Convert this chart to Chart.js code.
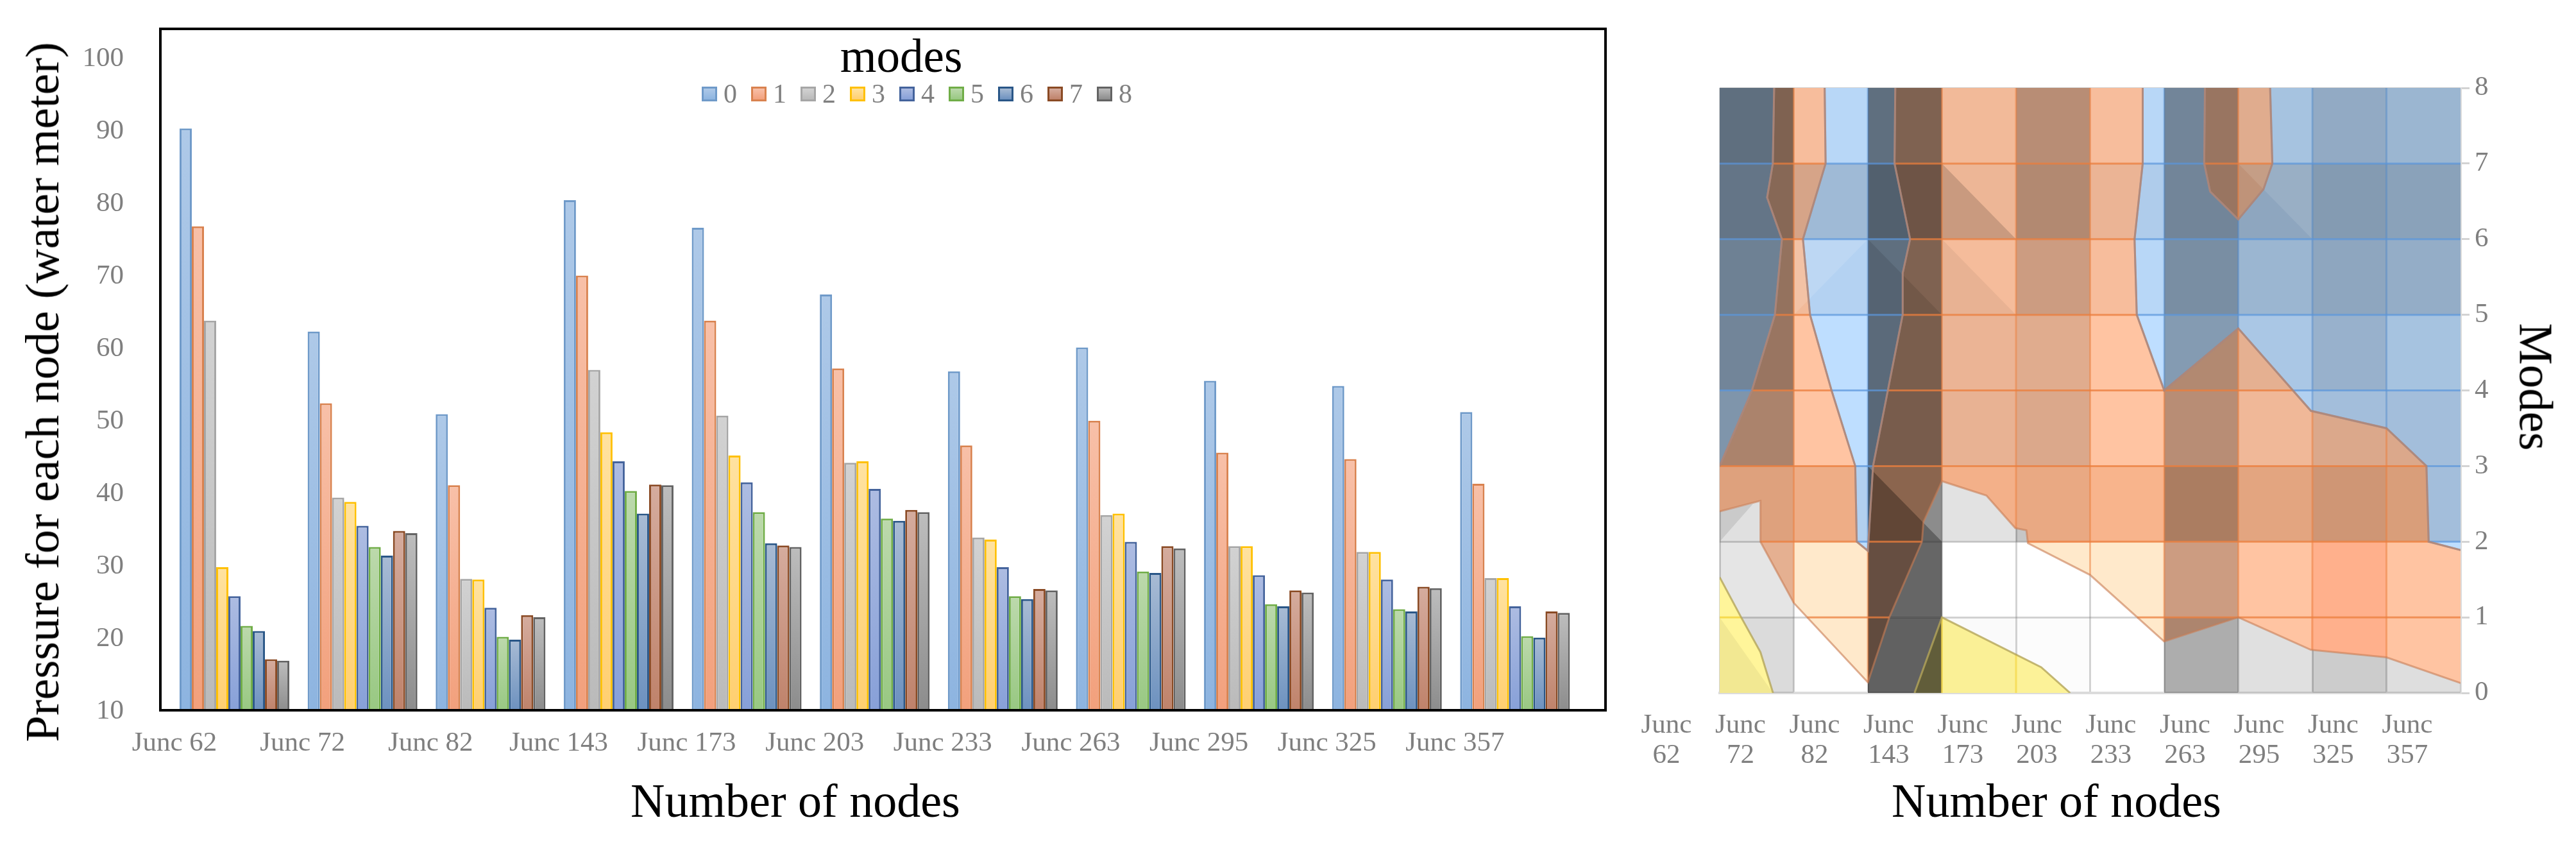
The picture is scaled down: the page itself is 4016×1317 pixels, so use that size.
<!DOCTYPE html>
<html>
<head>
<meta charset="utf-8">
<script src="https://cdn.jsdelivr.net/npm/chart.js@4"></script>
<style>
  html, body { margin: 0; background: #fff; }
  #page { position: relative; width: 4016px; height: 1317px; overflow: hidden; font-family: "Liberation Serif", serif; }
  canvas { position: absolute; top: 0; }
  .title { position: absolute; color: #000; line-height: 1; white-space: nowrap; }
  #frame { position: absolute; left: 248px; top: 43px; width: 2257px; height: 1066px; box-sizing: border-box; border: 4px solid #000; }
  .key { position: absolute; top: 135px; width: 24px; height: 23px; box-sizing: border-box; border: 3px solid; }
  .keyText { position: absolute; top: 121px; font-size: 42px; line-height: 50px; color: #808080; }
</style>
</head>
<body>
<div id="page">
  <canvas id="bars" width="2600" height="1317" style="left:0;width:2600px;height:1317px"></canvas>
  <div id="frame"></div>
  <canvas id="contour" width="1506" height="1317" style="left:2510px;width:1506px;height:1317px"></canvas>
  <div class="title" style="left:66px;top:611px;font-size:74px;transform:translate(-50%,-50%) rotate(-90deg)">Pressure for each node (water meter)</div>
  <div class="title" style="left:1240px;top:1248px;font-size:74px;transform:translate(-50%,-50%)">Number of nodes</div>
  <div class="title" style="left:1405px;top:87px;font-size:73px;transform:translate(-50%,-50%)">modes</div>
  <div class="title" style="left:3206px;top:1248px;font-size:74px;transform:translate(-50%,-50%)">Number of nodes</div>
  <div class="title" style="left:3953px;top:603px;font-size:73px;transform:translate(-50%,-50%) rotate(90deg)">Modes</div>
</div>
<script>
// values
const nodes = ['Junc 62', 'Junc 72', 'Junc 82', 'Junc 143', 'Junc 173', 'Junc 203', 'Junc 233', 'Junc 263', 'Junc 295', 'Junc 325', 'Junc 357'];
const modeNames = ['0', '1', '2', '3', '4', '5', '6', '7', '8'];
const mode0 = [90.4, 62.4, 51.0, 80.5, 76.7, 67.5, 56.9, 60.2, 55.6, 54.9, 51.3];
const mode1 = [76.9, 52.5, 41.2, 70.1, 63.9, 57.3, 46.7, 50.1, 45.7, 44.8, 41.4];
const mode2 = [63.9, 39.5, 28.3, 57.1, 50.8, 44.3, 34.0, 37.1, 32.8, 32.0, 28.4];
const mode3 = [29.9, 38.9, 28.2, 48.5, 45.3, 44.5, 33.7, 37.3, 32.8, 32.0, 28.4];
const mode4 = [25.9, 35.6, 24.3, 44.5, 41.6, 40.7, 29.9, 33.4, 28.8, 28.2, 24.5];
const mode5 = [21.8, 32.7, 20.3, 40.4, 37.5, 36.6, 25.9, 29.3, 24.8, 24.1, 20.4];
const mode6 = [21.1, 31.5, 19.9, 37.3, 33.2, 36.3, 25.5, 29.1, 24.5, 23.8, 20.2];
const mode7 = [17.2, 34.9, 23.3, 41.3, 32.9, 37.8, 26.9, 32.8, 26.7, 27.2, 23.8];
const mode8 = [17.0, 34.6, 23.0, 41.2, 32.7, 37.5, 26.7, 32.5, 26.4, 27.0, 23.6];
const modeValues = [mode0, mode1, mode2, mode3, mode4, mode5, mode6, mode7, mode8];
const pressureTicks = [10, 20, 30, 40, 50, 60, 70, 80, 90, 100];

// contour regions of the right plot, as [node index, mode]
const blueLeft = [[0, 8], [0.735, 8], [0.717, 7], [0.64, 6.55], [0.84, 6], [0.745, 5], [0.435, 4], [0, 3]];
const blueMiddle = [[1.417, 8], [2.37, 8], [2.36, 7], [2.57, 6], [2.47, 5.55], [2.47, 5], [2.27, 4], [2.07, 3], [2, 1.88], [1.85, 2], [1.83, 3], [1.51, 4], [1.22, 5], [1.124, 6], [1.43, 7]];
const blueRight = [[5.71, 8], [6.55, 8], [6.54, 7], [6.62, 6.63], [7, 6.26], [7.34, 6.66], [7.46, 7], [7.43, 8], [10, 8], [10, 1.89], [9.57, 2], [9.54, 3], [9, 3.5], [7.98, 3.73], [7, 4.82], [6, 4], [5.63, 5], [5.6, 6], [5.71, 7]];
const orangeIsland = [[6.55, 8], [6.54, 7], [6.62, 6.63], [7, 6.26], [7.34, 6.66], [7.46, 7], [7.43, 8]];
const orangeMain = [[0.735, 8], [1.417, 8], [1.43, 7], [1.124, 6], [1.22, 5], [1.51, 4], [1.83, 3], [1.85, 2], [2, 1.88], [2.07, 3], [2.27, 4], [2.47, 5], [2.47, 5.55], [2.57, 6], [2.36, 7], [2.37, 8], [5.71, 8], [5.71, 7], [5.6, 6], [5.63, 5], [6, 4], [7, 4.82], [7.98, 3.73], [9, 3.5], [9.54, 3], [9.57, 2], [10, 1.89], [10, 0.13], [9, 0.47], [7.98, 0.57], [7, 1], [6, 0.68], [5, 1.56], [4.16, 1.98], [4.14, 2.15], [3.99, 2.18], [3.6, 2.61], [3, 2.8], [2.75, 2.26], [2.73, 2], [2.29, 1], [2, 0.14], [1, 1.19], [0.55, 2], [0.55, 2.54], [0, 2.4], [0, 3], [0.435, 4], [0.745, 5], [0.84, 6], [0.64, 6.55], [0.717, 7]];
const yellowLeft = [[0, 1.53], [0.29, 1], [0.55, 0.54], [0.72, 0], [0, 0]];
const yellowMiddle = [[2.63, 0], [3, 1], [4.34, 0.34], [4.73, 0]];
const peachCol1 = [[1, 2], [1.85, 2], [2, 1.88], [2, 0.14], [1, 1.19]];
const peachCol5 = [[4.16, 1.98], [6, 2], [6, 0.68], [5, 1.56]];
const salmonCol8 = [[8, 2], [9, 2], [9, 0.47], [7.98, 0.57]];
const deepRowLeft = [[0, 3], [1.83, 3], [1.85, 2], [0.55, 2], [0.55, 2.54], [0, 2.4]];
const deepRowRight = [[2.07, 3], [9.54, 3], [9.57, 2], [4.16, 2], [4.14, 2.15], [3.99, 2.18], [3.6, 2.61], [3, 2.8], [2.75, 2.26], [2.73, 2], [2.03, 2]];

// darkness of each cell: rows from mode 7-8 down to mode 0-1, columns left to right
const cellDark = [
  [0.50, 0.03, 0.50, 0.05, 0.28, 0.03, 0.40, 0.12, 0.23, 0.18],
  [0.47, 0.16, 0.57, 0.07, 0.30, 0.08, 0.40, 0.25, 0.30, 0.27],
  [0.42, 0.05, 0.50, 0.04, 0.20, 0.03, 0.36, 0.18, 0.25, 0.22],
  [0.40, 0.00, 0.52, 0.08, 0.12, 0.00, 0.30, 0.10, 0.20, 0.12],
  [0.33, 0.00, 0.53, 0.09, 0.14, 0.00, 0.28, 0.06, 0.14, 0.14],
  [0.12, 0.06, 0.45, 0.04, 0.08, 0.02, 0.32, 0.10, 0.18, 0.14],
  [0.10, 0.00, 0.60, 0.00, 0.00, 0.00, 0.20, 0.00, 0.00, 0.00],
  [0.14, 0.00, 0.62, 0.02, 0.01, 0.00, 0.32, 0.00, 0.00, 0.00]
];
// gray that only shows outside the orange region: [column, lower mode, darkness]
const grayUnder = [[7, 0, 0.12], [8, 0, 0.2], [9, 0, 0.13], [3, 2, 0.08], [4, 2, 0.16]];
// triangles of a cell that come out darker (above 0) or lighter (below 0)
const cellFacets = [
  [[[3, 7], [3, 6], [4, 6]], 0.15],
  [[[3, 6], [3, 5], [4, 5]], 0.05],
  [[[2, 6], [2, 5], [3, 5]], 0.1],
  [[[2, 3], [2, 2], [3, 2]], 0.3],
  [[[0, 2], [0, 2.4], [0.45, 2.5]], 0.1],
  [[[0, 1], [0.72, 0], [0, 0]], 0.05],
  [[[7, 7], [8, 7], [8, 6]], -0.1],
  [[[1, 6], [2, 6], [1, 5]], -0.12]
];

const barTop = ['#aec9e8', '#f8c0a8', '#d2d2d2', '#ffe2a0', '#adbce2', '#bcd9ac', '#a8bbd4', '#d5ac9e', '#bdbdbd'];
const barBottom = ['#8db4e0', '#f2a07c', '#bababa', '#ffcf70', '#87a0d8', '#98c882', '#6c91bf', '#bf826a', '#8c8c8c'];
const barEdge = ['#6f9ac9', '#d9824f', '#a6a6a6', '#ffc000', '#44639c', '#70ad47', '#295687', '#8a4a24', '#636363'];

Chart.defaults.font.family = '"Liberation Serif", serif';
Chart.defaults.animation = false;
Chart.defaults.plugins.legend.display = false;
Chart.defaults.plugins.tooltip.enabled = false;

// legend above the bars, one key per mode
const page = document.getElementById('page');
modeNames.forEach(function (name, i) {
  const key = document.createElement('div');
  key.className = 'key';
  key.style.left = (1094 + i * 77) + 'px';
  key.style.borderColor = barEdge[i];
  key.style.background = 'linear-gradient(' + barTop[i] + ',' + barBottom[i] + ')';
  page.appendChild(key);
  const text = document.createElement('div');
  text.className = 'keyText';
  text.style.left = (1128 + i * 77) + 'px';
  text.textContent = name;
  page.appendChild(text);
});

new Chart(document.getElementById('bars'), {
  type: 'bar',
  data: {
    labels: nodes,
    datasets: modeValues.map(function (values, i) {
      return {
        label: modeNames[i],
        data: values,
        borderColor: barEdge[i],
        borderWidth: 3,
        backgroundColor: function (c) {
          const plot = c.chart.chartArea;
          if (c.type !== 'data' || !plot || !c.parsed) return barBottom[i];
          const top = c.chart.scales.y.getPixelForValue(c.parsed.y);
          const g = c.chart.ctx.createLinearGradient(0, top, 0, plot.bottom);
          g.addColorStop(0, barTop[i]);
          g.addColorStop(1, barBottom[i]);
          return g;
        }
      };
    })
  },
  options: {
    responsive: false,
    devicePixelRatio: 1,
    layout: { autoPadding: false, padding: { left: 0, top: 43, right: 138.3, bottom: 0 } },
    datasets: { bar: { barPercentage: 1, categoryPercentage: 0.857 } },
    scales: {
      x: {
        afterFit: function (s) { s.height = 208; s.paddingLeft = 0; s.paddingRight = 0; },
        grid: { display: false, drawTicks: false },
        border: { display: false },
        ticks: { color: '#7f7f7f', font: { size: 43 }, padding: 24, labelOffset: -93.5, maxRotation: 0, autoSkip: false }
      },
      y: {
        min: pressureTicks[0],
        max: 104.3,
        bounds: 'data',
        afterBuildTicks: function (s) { s.ticks = pressureTicks.map(function (v) { return { value: v }; }); },
        // the wide tick padding must not push the top of the plot down
        afterFit: function (s) { s.width = 265.7; s.paddingTop = 0; s.paddingBottom = 0; },
        grid: { display: false, drawTicks: false },
        border: { display: false },
        ticks: { color: '#7f7f7f', font: { size: 43 }, padding: 72.7 }
      }
    }
  }
});

function toPoints(poly) {
  return poly.map(function (p) { return { x: p[0], y: p[1] }; });
}
function area(poly, color, order) {
  const pts = toPoints(poly);
  return { data: pts, showLine: true, fill: 'shape', backgroundColor: color, borderWidth: 0, pointRadius: 0, order: order };
}
function onEdge(a, b) {
  return (a.x === b.x && (a.x === 0 || a.x === 10)) || (a.y === b.y && (a.y === 0 || a.y === 8));
}
function outline(poly, color) {
  const pts = toPoints(poly.concat([poly[0]]));
  return {
    data: pts, showLine: true, fill: false, borderColor: color, borderWidth: 3, pointRadius: 0, order: 5,
    segment: { borderColor: function (c) { return onEdge(c.p0.parsed, c.p1.parsed) ? 'transparent' : undefined; } }
  };
}
// pieces of the grid that fall inside a region, so the lines take the region's colour
function gridInside(poly, color, alphaColor) {
  const across = [], along = [];
  function cuts(k, axis) {
    const other = axis === 0 ? 1 : 0, out = [];
    poly.forEach(function (p, i) {
      const q = poly[(i + 1) % poly.length];
      if ((p[axis] <= k) !== (q[axis] <= k)) out.push(p[other] + (k - p[axis]) / (q[axis] - p[axis]) * (q[other] - p[other]));
    });
    return out.sort(function (a, b) { return a - b; });
  }
  for (let k = 1; k < 8; k++) {
    const c = cuts(k, 1);
    for (let i = 0; i + 1 < c.length; i += 2) across.push({ x: c[i], y: k }, { x: c[i + 1], y: k }, { x: null, y: null });
  }
  for (let k = 1; k < 10; k++) {
    const c = cuts(k, 0);
    for (let i = 0; i + 1 < c.length; i += 2) along.push({ x: k, y: c[i] }, { x: k, y: c[i + 1] }, { x: null, y: null });
  }
  return [
    { data: across, showLine: true, fill: false, borderColor: color, borderWidth: 3, pointRadius: 0, order: 10 },
    { data: along, showLine: true, fill: false, borderColor: alphaColor, borderWidth: 3, pointRadius: 0, order: 10 }
  ];
}

const orangeStyle = ['#ffc4a2', 'rgba(200,125,85,0.6)', 'rgba(235,125,60,0.75)', 'rgba(235,125,60,0.5)'];
const blueStyle = ['#bedeff', 'rgba(125,150,185,0.8)', 'rgba(90,150,220,0.7)', 'rgba(70,130,200,0.4)'];
const yellowStyle = ['#fff59a', 'rgba(180,165,90,0.8)', 'rgba(245,215,70,0.9)', 'rgba(245,215,70,0.7)'];
const regions = [
  [orangeMain, orangeStyle, 50], [orangeIsland, orangeStyle, 50],
  [blueLeft, blueStyle, 50], [blueMiddle, blueStyle, 50], [blueRight, blueStyle, 50],
  [yellowLeft, yellowStyle, 25], [yellowMiddle, yellowStyle, 50]
];
const sets = [];
regions.forEach(function (r) {
  sets.push(area(r[0], r[1][0], r[2]));
  sets.push(outline(r[0], r[1][1]));
  gridInside(r[0], r[1][2], r[1][3]).forEach(function (d) { sets.push(d); });
});
sets.push(area(peachCol1, '#ffe9cb', 40));
sets.push(area(peachCol5, '#ffe9cb', 40));
sets.push(area(salmonCol8, '#ffb08c', 40));
sets.push(area(deepRowLeft, 'rgba(240,110,30,0.14)', 35));
sets.push(area(deepRowRight, 'rgba(240,110,30,0.14)', 35));
grayUnder.forEach(function (g) {
  const c = g[0], low = g[1];
  sets.push(area([[c, low + 1], [c + 1, low + 1], [c + 1, low], [c, low]], 'rgba(0,0,0,' + g[2] + ')', 60));
});
cellDark.forEach(function (row, r) {
  row.forEach(function (dark, c) {
    if (dark > 0) {
      const top = 8 - r;
      sets.push(area([[c, top], [c + 1, top], [c + 1, top - 1], [c, top - 1]], 'rgba(0,0,0,' + dark + ')', 30));
    }
  });
});
cellFacets.forEach(function (f) {
  const color = f[1] > 0 ? 'rgba(0,0,0,' + f[1] + ')' : 'rgba(255,255,255,' + (-f[1]) + ')';
  sets.push(area(f[0], color, 20));
});

new Chart(document.getElementById('contour'), {
  type: 'scatter',
  data: { datasets: sets },
  options: {
    responsive: false,
    devicePixelRatio: 1,
    layout: { autoPadding: false, padding: { left: 171, top: 137, right: 0, bottom: 0 } },
    scales: {
      x: {
        type: 'linear', min: 0, max: 10,
        afterFit: function (s) { s.height = 237; },
        grid: { color: 'rgba(130,130,130,0.35)', lineWidth: 3, drawTicks: false },
        border: { color: '#dcdcdc', width: 4 },
        ticks: {
          color: '#7f7f7f', font: { size: 43, lineHeight: 1.09 }, padding: 27, labelOffset: -83,
          stepSize: 1, maxRotation: 0, autoSkip: false,
          callback: function (v) { return nodes[v].split(' '); }
        }
      },
      y: {
        type: 'linear', position: 'right', min: 0, max: 8,
        afterFit: function (s) { s.width = 180; },
        grid: { color: 'rgba(130,130,130,0.35)', lineWidth: 3, tickLength: 14 },
        border: { color: '#dcdcdc', width: 3 },
        ticks: { color: '#7f7f7f', font: { size: 43 }, padding: 8, stepSize: 1 }
      }
    }
  }
});
</script>
</body>
</html>
